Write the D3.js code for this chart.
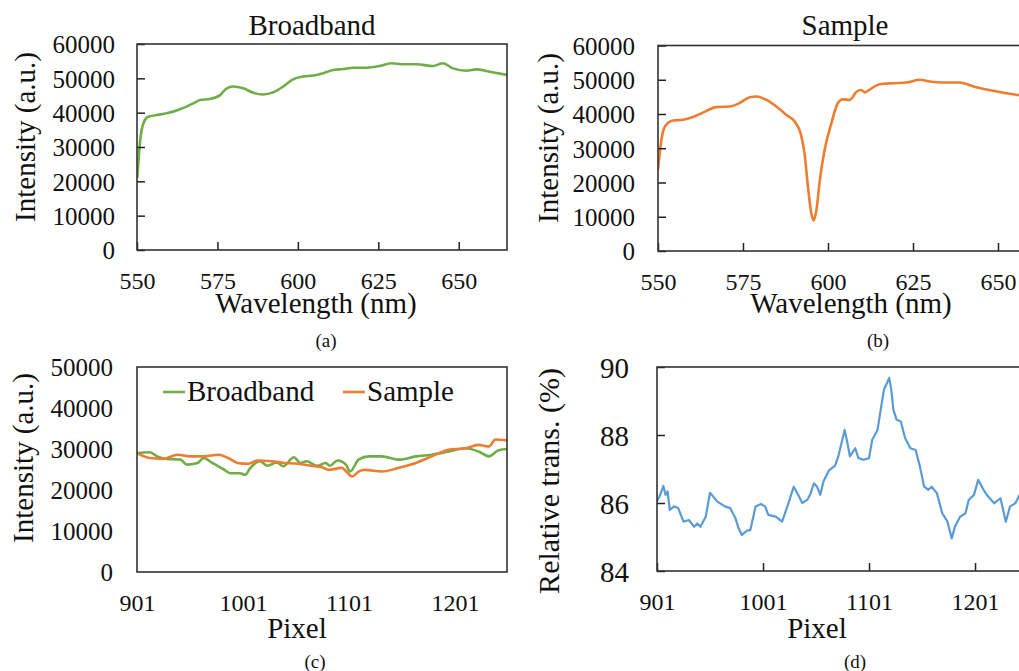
<!DOCTYPE html>
<html><head><meta charset="utf-8">
<script src="https://cdn.jsdelivr.net/npm/d3@7"></script>
<style>
html,body{margin:0;padding:0;background:#fff;overflow:hidden}
svg, svg text{font-family:"Liberation Serif","Times New Roman",serif !important}
</style>
</head><body><svg id="chart" width="1019" height="671"></svg>
<script>
// ---- data ----
const broadbandWavelength = [550.1,551,552,553.5,556,559.2,563.4,567.5,569.6,572.7,575.8,577.9,579.9,583,586.1,589.2,592.3,595.4,598.5,601.6,604.8,607.9,611,614.1,617.2,621.3,625.5,629.1,632.7,636.9,642,645.1,648.2,652.4,655.5,659.6,665];
const broadbandIntensity = [21000,32000,36900,38800,39300,39800,41000,42700,43700,44000,45100,47100,47600,47100,45800,45300,45900,47600,49700,50500,50800,51500,52400,52700,53100,53100,53600,54400,54100,54100,53600,54400,52900,52200,52600,51900,51000];

const sampleWavelength = [550,551,552,554.4,557.4,560.3,563.2,567.2,571.1,574,577,579,581.9,584.8,587.8,590.2,592.2,593.1,594.1,595.1,595.8,596.6,597.6,599,601,602.9,604.4,606.4,608.4,609.8,610.8,612.8,615.2,619.1,623.1,627,629.9,633.8,638.7,643.6,648.5,653.4,657];
const sampleIntensity = [23700,32400,36300,38100,38300,39100,40400,42000,42200,43200,44900,45100,44100,42200,39700,37800,33400,28500,18800,11000,8900,12000,20700,29500,37300,43200,44300,44100,46500,47000,46300,47500,48700,49000,49200,50000,49500,49200,49200,47800,46800,45900,45400];

const broadbandPixel = [901,913,920,929,942,948,958,964,972,983,989,998,1003,1008,1017,1024,1033,1039,1049,1055,1061,1071,1079,1083,1090,1098,1102,1110,1120,1132,1148,1164,1179,1195,1211,1223,1233,1242,1250];
const broadbandPixelIntensity = [29000,29200,28200,27600,27400,26200,26600,27800,26600,25000,24100,24100,23700,25400,27000,25900,26700,25800,28000,26600,27000,25900,26600,25900,27200,26200,24500,27400,28200,28200,27400,28200,28600,29400,30200,29400,28200,29700,30000];

const samplePixel = [901,913,926,939,951,964,978,987,996,1006,1015,1028,1040,1053,1066,1075,1082,1094,1104,1110,1116,1132,1148,1164,1179,1195,1211,1223,1233,1239,1250];
const samplePixelIntensity = [29000,27800,27600,28600,28200,28200,28600,27800,26600,26400,27200,27000,26600,26400,25900,25600,24900,25400,23300,24500,24900,24500,25400,26600,28200,29800,30200,31000,30600,32300,32100];

const transPixel = [901,904,907,909,911,913,917,921,926,931,936,939,942,947,951,958,965,970,975,978,981,986,989,994,999,1003,1006,1013,1019,1024,1030,1035,1038,1043,1046,1049,1052,1055,1058,1063,1069,1072,1078,1080,1083,1088,1091,1096,1101,1104,1109,1112,1115,1118,1120,1122,1124,1127,1131,1135,1140,1145,1149,1153,1157,1160,1165,1170,1175,1179,1182,1187,1192,1195,1200,1204,1209,1212,1219,1225,1230,1234,1239,1243];
const relativeTrans = [86.04,86.24,86.5,86.24,86.34,85.8,85.9,85.85,85.45,85.5,85.3,85.4,85.3,85.6,86.3,86.04,85.9,85.85,85.55,85.26,85.06,85.19,85.2,85.9,85.97,85.9,85.65,85.6,85.45,85.9,86.48,86.19,86.0,86.1,86.29,86.58,86.48,86.24,86.63,86.95,87.1,87.37,88.15,87.86,87.37,87.61,87.32,87.27,87.32,87.86,88.15,88.74,89.33,89.53,89.68,89.33,88.74,88.45,88.4,87.91,87.61,87.56,87.07,86.48,86.39,86.48,86.29,85.7,85.45,84.96,85.3,85.6,85.7,86.09,86.24,86.68,86.39,86.24,85.99,86.14,85.45,85.9,85.99,86.24];

const wavelengthTicks = [550,575,600,625,650];
const pixelTicks = [901,1001,1101,1201];
const intensityTicks60 = [0,10000,20000,30000,40000,50000,60000];
const intensityTicks50 = [0,10000,20000,30000,40000,50000];
const transTicks = [84,86,88,90];

const GREEN = "#70ad47", ORANGE = "#ed7d31", BLUE = "#5b9bd5";
const FONT = "'Liberation Serif','Times New Roman',serif";
const svg = d3.select("#chart");
let clipId = 0;

function panel(cfg) {
  const g = svg.append("g").attr("font-family", FONT);
  const x = d3.scaleLinear().domain(cfg.xDomain).range([cfg.left, cfg.right]);
  const y = d3.scaleLinear().domain(cfg.yDomain).range([cfg.bottom, cfg.top]);
  const id = "clip" + (clipId++);
  g.append("clipPath").attr("id", id).append("rect")
    .attr("x", cfg.left).attr("y", cfg.top)
    .attr("width", cfg.right - cfg.left).attr("height", cfg.bottom - cfg.top);

  const lines = g.append("g").attr("clip-path", `url(#${id})`);
  cfg.series.forEach(s => {
    const pts = s.x.map((v, i) => [v, s.y[i]]);
    lines.append("path").datum(pts)
      .attr("fill", "none").attr("stroke", s.color)
      .attr("stroke-width", s.width).attr("stroke-linejoin", "round")
      .attr("d", d3.line().x(d => x(d[0])).y(d => y(d[1])).curve(s.curve || d3.curveMonotoneX));
  });

  const tickLen = cfg.ticks ? -8 : 0;
  const xa = g.append("g").attr("transform", `translate(0,${cfg.bottom})`)
    .call(d3.axisBottom(x).tickValues(cfg.xTicks).tickSize(tickLen).tickFormat(d3.format("d")));
  xa.attr("font-family", FONT);
  xa.select(".domain").remove();
  xa.selectAll("line").attr("stroke", "#222").attr("stroke-width", 1.5);
  xa.selectAll("text").attr("y", 39).attr("dy", null)
    .attr("font-size", 24).attr("fill", "#111").attr("font-family", FONT);

  const ya = g.append("g").attr("transform", `translate(${cfg.left},0)`)
    .call(d3.axisLeft(y).tickValues(cfg.yTicks).tickSize(tickLen).tickFormat(d3.format("d")));
  ya.attr("font-family", FONT);
  ya.select(".domain").remove();
  ya.selectAll("line").attr("stroke", "#222").attr("stroke-width", 1.5);
  ya.selectAll("text").attr("x", -cfg.yPad).attr("dy", "0.35em")
    .attr("font-size", cfg.yTickSize).attr("fill", "#111").attr("font-family", FONT);

  g.append("rect").attr("x", cfg.left).attr("y", cfg.top)
    .attr("width", cfg.right - cfg.left).attr("height", cfg.bottom - cfg.top)
    .attr("fill", "none").attr("stroke", "#333").attr("stroke-width", 1.6);

  if (cfg.title) g.append("text").attr("x", cfg.titleX).attr("y", 35)
    .attr("text-anchor", "middle").attr("font-size", 29).attr("fill", "#111").text(cfg.title);

  g.append("text").attr("x", cfg.xLabelX).attr("y", cfg.xLabelY)
    .attr("text-anchor", "middle").attr("font-size", 29).attr("fill", "#111").text(cfg.xLabel);

  g.append("text").attr("transform", `translate(${cfg.yLabelX},${cfg.yLabelY}) rotate(-90)`)
    .attr("text-anchor", "middle").attr("font-size", cfg.yLabelSize).attr("fill", "#111").text(cfg.yLabel);

  g.append("text").attr("x", cfg.tagX).attr("y", cfg.tagY)
    .attr("text-anchor", "middle").attr("font-size", 19).attr("fill", "#111").text(cfg.tag);
  return {g, x, y};
}

panel({
  left: 137, right: 507, top: 44, bottom: 250,
  xDomain: [550, 665], yDomain: [0, 60000],
  xTicks: wavelengthTicks, yTicks: intensityTicks60, ticks: true,
  yPad: 22, yTickSize: 25,
  series: [{x: broadbandWavelength, y: broadbandIntensity, color: GREEN, width: 2.6}],
  title: "Broadband", titleX: 312,
  xLabel: "Wavelength (nm)", xLabelX: 316, xLabelY: 313,
  yLabel: "Intensity (a.u.)", yLabelX: 35, yLabelY: 137, yLabelSize: 29,
  tag: "(a)", tagX: 326, tagY: 347
});

panel({
  left: 658, right: 1049, top: 45.5, bottom: 251,
  xDomain: [550, 665], yDomain: [0, 60000],
  xTicks: wavelengthTicks, yTicks: intensityTicks60, ticks: true,
  yPad: 23, yTickSize: 25,
  series: [{x: sampleWavelength, y: sampleIntensity, color: ORANGE, width: 2.6}],
  title: "Sample", titleX: 845,
  xLabel: "Wavelength (nm)", xLabelX: 851, xLabelY: 313,
  yLabel: "Intensity (a.u.)", yLabelX: 558, yLabelY: 138, yLabelSize: 29,
  tag: "(b)", tagX: 878, tagY: 347
});

const pc = panel({
  left: 137, right: 507, top: 367, bottom: 572,
  xDomain: [901, 1250], yDomain: [0, 50000],
  xTicks: pixelTicks, yTicks: intensityTicks50, ticks: false,
  yPad: 24, yTickSize: 25,
  series: [
    {x: broadbandPixel, y: broadbandPixelIntensity, color: GREEN, width: 2.6},
    {x: samplePixel, y: samplePixelIntensity, color: ORANGE, width: 2.6}
  ],
  xLabel: "Pixel", xLabelX: 297, xLabelY: 638,
  yLabel: "Intensity (a.u.)", yLabelX: 33, yLabelY: 458, yLabelSize: 29,
  tag: "(c)", tagX: 315, tagY: 668
});

// legend for (c)
const legendItems = [
  {label: "Broadband", color: GREEN, x: 163},
  {label: "Sample", color: ORANGE, x: 343}
];
const lg = pc.g.append("g");
legendItems.forEach(d => {
  lg.append("line").attr("x1", d.x).attr("x2", d.x + 22).attr("y1", 392).attr("y2", 392)
    .attr("stroke", d.color).attr("stroke-width", 2.6);
  lg.append("text").attr("x", d.x + 24).attr("y", 401).attr("font-size", 29)
    .attr("fill", "#111").text(d.label);
});

panel({
  left: 657, right: 1027, top: 367, bottom: 571,
  xDomain: [901, 1250], yDomain: [84, 90],
  xTicks: pixelTicks, yTicks: transTicks, ticks: true,
  yPad: 28, yTickSize: 29,
  series: [{x: transPixel, y: relativeTrans, color: BLUE, width: 2.2, curve: d3.curveLinear}],
  xLabel: "Pixel", xLabelX: 817, xLabelY: 638,
  yLabel: "Relative trans. (%)", yLabelX: 559, yLabelY: 481, yLabelSize: 30,
  tag: "(d)", tagX: 855, tagY: 668
});
</script>
</body></html>
